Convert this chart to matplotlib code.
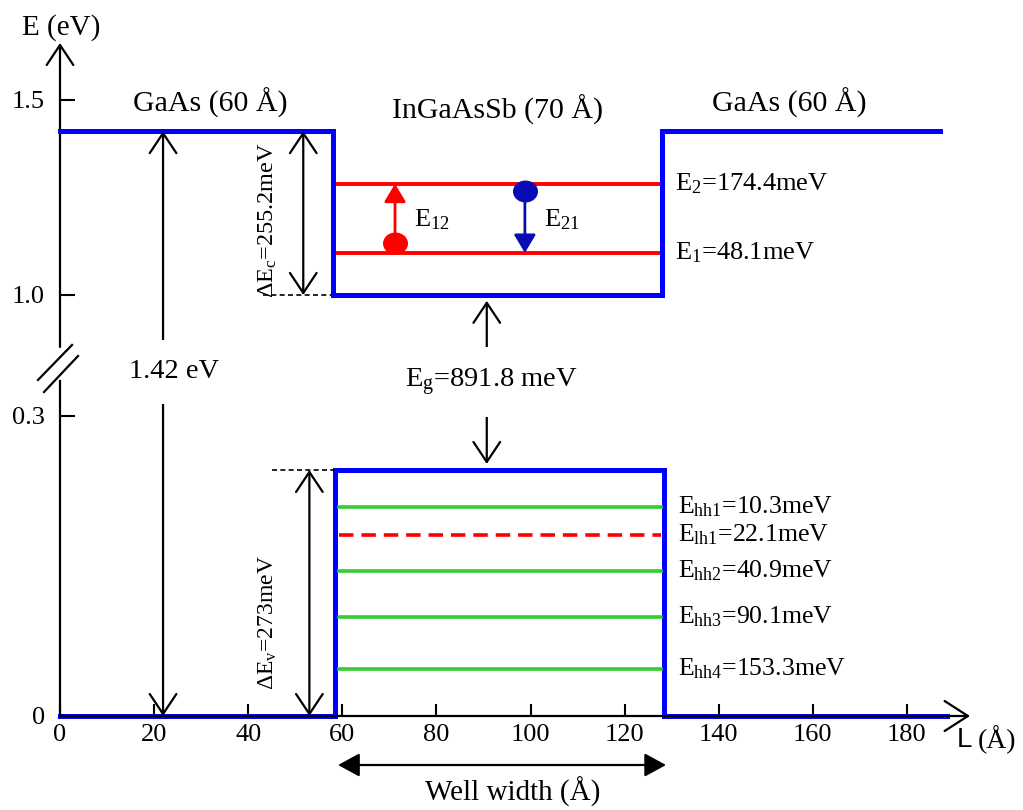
import numpy as np
import matplotlib
matplotlib.use("Agg")
from matplotlib import pyplot as plt
from matplotlib.path import Path
from matplotlib.transforms import Affine2D

plt.rcParams['font.family'] = ['Liberation Serif', 'DejaVu Serif']
plt.rcParams['mathtext.fontset'] = 'custom'
plt.rcParams['mathtext.rm'] = 'Liberation Serif'
plt.rcParams['mathtext.it'] = 'Liberation Serif:italic'

# axis ticks
x_ticks = [0, 20, 40, 60, 80, 100, 120, 140, 160, 180]
y_ticks = [0, 0.3, 1.0, 1.5]
y_ticklabels = ['0', '0.3', '1.0', '1.5']

# band edges (position in Angstrom, energy in eV)
cb_x = [0, 58, 58, 128, 128, 187]
cb_e = [1.42, 1.42, 1.0, 1.0, 1.42, 1.42]
vb_x = [0, 58.4, 58.4, 128.3, 128.3, 188.5]
vb_e = [0, 0, 0.246, 0.246, 0, 0]

# confined levels
cb_levels = [1.285, 1.108]
cb_labels = [r'E$_2$=174.4meV', r'E$_1$=48.1meV']
vb_levels = [0.209, 0.181, 0.145, 0.099, 0.047]
vb_labels = [r'E$_{\rm hh1}$=10.3meV', r'E$_{\rm lh1}$=22.1meV', r'E$_{\rm hh2}$=40.9meV',
             r'E$_{\rm hh3}$=90.1meV', r'E$_{\rm hh4}$=153.3meV']
vb_colors = ['#33cc33', '#ff0000', '#33cc33', '#33cc33', '#33cc33']
vb_styles = ['-', '--', '-', '-', '-']

# broken energy axis: 0-0.335 eV and 0.867 eV upward get different scales
seg_e = [-1.0, 0.0, 0.335, 0.867, 1.0, 3.0]
seg_u = [-1000, 0, 335, 369, 421, 1201]


def fwd(e):
    return np.interp(e, seg_e, seg_u)


def inv(u):
    return np.interp(u, seg_u, seg_e)


fig = plt.figure(figsize=(10.23, 8.10), dpi=100)
ax = fig.add_axes([60 / 1023, 94 / 810, 910 / 1023, 673 / 810])
ax.set_yscale('function', functions=(fwd, inv))
ax.set_xlim(0, 193.4)
ax.set_ylim(0, 1.646)
for s in ax.spines.values():
    s.set_visible(False)
ax.set_xticks(x_ticks)
ax.set_yticks(y_ticks)
ax.set_yticklabels(y_ticklabels)
ax.minorticks_off()
ax.tick_params(axis='y', direction='in', length=11, width=1.5, labelsize=19, pad=11)
ax.tick_params(axis='x', direction='in', length=9, width=1.5, labelsize=19, pad=6)

black = dict(color='k', lw=1.6)


def arrow(x0, y0, x1, y1, style='->', color='k', ms=24, lw=1.6):
    ax.annotate('', xy=(x1, y1), xytext=(x0, y0), annotation_clip=False,
                arrowprops=dict(arrowstyle=style, color=color, lw=lw,
                                mutation_scale=ms, shrinkA=0, shrinkB=0))


# axes with break
ax.plot([0, 0], [0, 0.335], clip_on=False, **black)
arrow(0, 0.867, 0, 1.646, style='->,head_length=0.6,head_width=0.4')
arrow(0, 0, 193.4, 0, style='->,head_length=0.7,head_width=0.45')
ax.plot([-0.0242, 0.0132], [0.4993, 0.5513], transform=ax.transAxes, clip_on=False, **black)
ax.plot([-0.0176, 0.0198], [0.4814, 0.5349], transform=ax.transAxes, clip_on=False, **black)
ax.text(0.2, 1.685, 'E (eV)', ha='center', va='center', fontsize=21)
ax.text(190.6, -0.024, 'L', ha='left', va='center', fontsize=20, family='Liberation Sans')
ax.text(195.0, -0.024, '(Å)', ha='left', va='center', fontsize=20)

# band edges
ax.plot(cb_x, cb_e, color='#0000ff', lw=3.6, clip_on=False, zorder=3, solid_joinstyle='miter')
ax.plot(vb_x, vb_e, color='#0000ff', lw=3.6, clip_on=False, zorder=1, solid_joinstyle='miter')

# levels
for e, lab in zip(cb_levels, cb_labels):
    ax.plot([58.2, 127.5], [e, e], color='#ff0000', lw=2.8)
    ax.text(130.7, e, lab, ha='left', va='center', fontsize=19)
for e, lab, c, ls in zip(vb_levels, vb_labels, vb_colors, vb_styles):
    ax.plot([59.3, 127.7], [e, e], color=c, lw=2.6, ls=ls, dashes=(4, 2.2) if ls == '--' else (None, None))
    ax.text(131.3, e, lab, ha='left', va='center', fontsize=18.5)

# region labels
ax.text(31.9, 1.492, 'GaAs (60 Å)', ha='center', va='center', fontsize=21.5)
ax.text(92.9, 1.474, 'InGaAsSb (70 Å)', ha='center', va='center', fontsize=21.5)
ax.text(155.1, 1.492, 'GaAs (60 Å)', ha='center', va='center', fontsize=21.5)

# band offsets
ax.plot([43.1, 58], [1.0, 1.0], color='k', lw=1.2, ls=(0, (3, 2)))
ax.plot([45.0, 58.4], [0.246, 0.246], color='k', lw=1.2, ls=(0, (3, 2)))
arrow(51.7, 1.0, 51.7, 1.42, style='<->,head_length=0.6,head_width=0.4')
arrow(53.0, 0.0, 53.0, 0.246, style='<->,head_length=0.6,head_width=0.4')
ax.text(44.2, 1.192, r'$\Delta$E$_{\rm c}$=255.2meV', rotation=90, ha='center', va='center', fontsize=17.5)
ax.text(44.2, 0.094, r'$\Delta$E$_{\rm v}$=273meV', rotation=90, ha='center', va='center', fontsize=17)

# GaAs gap and well gap
arrow(21.9, 0.0, 21.9, 1.42, style='<->,head_length=0.6,head_width=0.4')
ax.text(24.2, 0.476, '1.42 eV', ha='center', va='center', fontsize=20.5,
        bbox=dict(fc='white', ec='none', pad=14))
arrow(90.7, 0.252, 90.7, 0.985, style='<->,head_length=0.6,head_width=0.4')
ax.text(91.7, 0.334, r'E$_{\rm g}$=891.8 meV', ha='center', va='center', fontsize=20.5,
        bbox=dict(fc='white', ec='none', pad=14))

# intersubband transitions
dot = Path.unit_circle().transformed(Affine2D().scale(1.15, 1.0))
ax.plot([71.2], [1.133], marker=dot, ms=17, color='#ff0000', ls='none')
arrow(71.2, 1.14, 71.2, 1.285, style='-|>,head_length=0.5,head_width=0.3', color='#ff0000', ms=22, lw=2)
ax.text(79.0, 1.192, r'E$_{12}$', ha='center', va='center', fontsize=19)
ax.plot([98.8], [1.267], marker=dot, ms=17, color='#0b0bb5', ls='none')
arrow(98.8, 1.26, 98.8, 1.108, style='-|>,head_length=0.5,head_width=0.3', color='#0b0bb5', ms=22, lw=2)
ax.text(106.7, 1.192, r'E$_{21}$', ha='center', va='center', fontsize=19)

# well width
arrow(59.1, -0.049, 128.8, -0.049, style='<|-|>,head_length=0.55,head_width=0.3', ms=24)
ax.text(96.3, -0.076, 'Well width (Å)', ha='center', va='center', fontsize=21)

fig.savefig('out.png', dpi=100)
